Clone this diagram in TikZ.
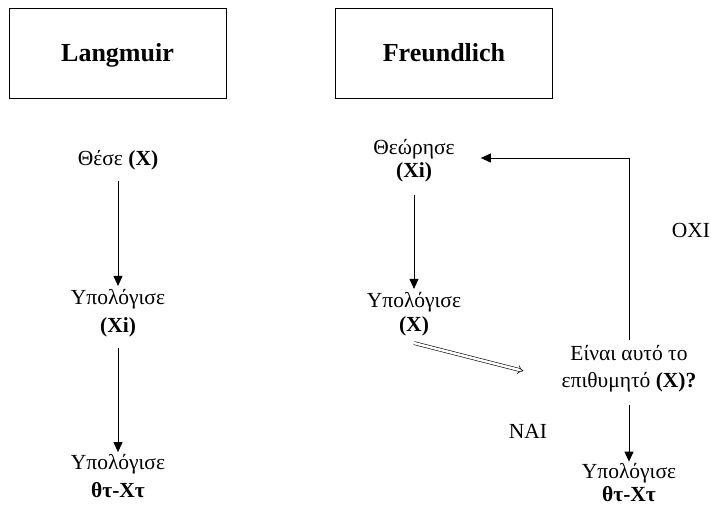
\documentclass[tikz,border=0pt]{standalone}
\usepackage{fontspec}
\setmainfont{Liberation Serif}[Ligatures=TeX]
\newfontfamily\diagfont{Liberation Serif}
\usetikzlibrary{arrows.meta}
\newcommand\bodysize[1]{\diagfont\fontsize{21.5}{#1}\selectfont}
\begin{document}
\begin{tikzpicture}[x=1pt,y=-1pt,
  txt/.style={inner sep=0pt, align=center, font=\bodysize{28}},
  title/.style={draw, line width=0.8pt, minimum width=217pt, minimum height=90pt,
    inner sep=0pt, font=\diagfont\fontsize{26}{30}\selectfont\bfseries,
    text height=20pt, text depth=2pt},
  arr/.style={line width=0.9pt, -{Triangle[length=10pt,width=9pt]}},
  dbl/.style={double, double distance=2.5pt, line width=0.6pt, -{Implies}}]
\useasboundingbox (0,0) rectangle (711,508);

% method headers
\node[title] (lang) at (117.5,53) {Langmuir};
\node[title] (freu) at (444,53) {Freundlich};

% Langmuir column
\node[txt, anchor=base] (l1) at (118,165) {Θέσε \textbf{(X)}};
\node[txt] (l2) at (118,313) {Υπολόγισε\\\textbf{(Xi)}};
\node[txt] (l3) at (118,476) {Υπολόγισε\\\textbf{θτ-Χτ}};

% Freundlich column
\node[txt, font=\bodysize{23}] (r1) at (414,161) {Θεώρησε\\\textbf{(Xi)}};
\node[txt, font=\bodysize{24}] (r2) at (414,314) {Υπολόγισε\\\textbf{(X)}};
\node[txt, font=\bodysize{27}] (d) at (629,369) {Είναι αυτό το\\επιθυμητό \textbf{(X)?}};
\node[txt, font=\bodysize{23}] (r3) at (629,483) {Υπολόγισε\\\textbf{θτ-Χτ}};

% branch labels
\node[txt, anchor=base] (no) at (691,237) {ΟΧΙ};
\node[txt, anchor=base] (yes) at (528,438) {ΝΑΙ};

% connectors
\draw[arr, shorten <=11pt, shorten >=3pt] (l1.south) -- (l2.north);
\draw[arr, shorten <=11pt, shorten >=2pt] (l2.south) -- (l3.north);
\draw[arr, shorten <=12pt, shorten >=3pt] (r1.south) -- (r2.north);
\draw[dbl] ([yshift=-7pt]r2.south) -- ([xshift=-38pt,yshift=-2pt]d.west);
\draw[arr, shorten <=5pt] (d.north) |- ([xshift=26pt,yshift=3pt]r1.east);
\draw[arr, shorten <=12pt, shorten >=2pt] (d.south) -- (r3.north);
\end{tikzpicture}
\end{document}
